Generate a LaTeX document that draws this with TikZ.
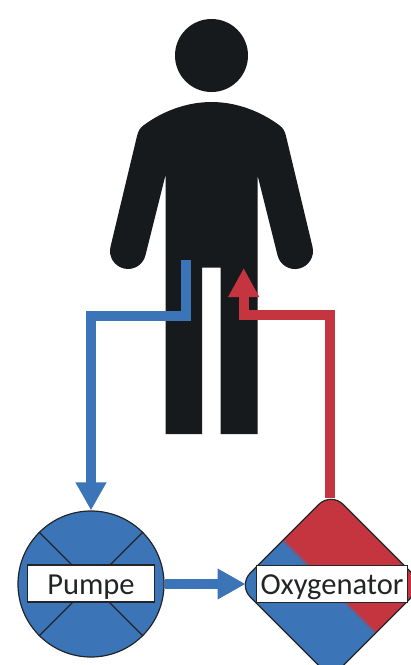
\documentclass[tikz,border=0pt]{standalone}
\usepackage{fontspec}
\setmainfont{Carlito}
\usetikzlibrary{arrows.meta}
\definecolor{pipeblue}{HTML}{3B75B8}
\definecolor{pipered}{HTML}{C43540}
\definecolor{body}{HTML}{161A1D}
\definecolor{edge}{HTML}{222426}
\tikzset{
  bluepipe/.style={draw=pipeblue,line width=10pt},
  redpipe/.style={draw=pipered,line width=10pt},
  bluetip/.style={-{Triangle[width=29pt,length=28pt,fill=pipeblue]}},
  redtip/.style={-{Triangle[width=29pt,length=29pt,fill=pipered]}},
  outline/.style={draw=edge,line width=1.2pt},
  labelbox/.style={draw=edge,line width=1.2pt,fill=white,inner sep=0pt,text=edge,
    text height=22pt,text depth=1pt,
    font=\fontsize{30.5}{36}\selectfont,anchor=center},
}
\begin{document}
\begin{tikzpicture}[x=1pt,y=-1pt]
\clip (0,0) rectangle (411,665);
% person
\fill[body] (211.5,55.5) circle[radius=36.5];
\fill[body] (165.5,434) -- (202,434) -- (202,267.7) -- (220.7,267.7) -- (220.7,434) -- (257.5,434)
  -- (257.5,175) -- (277.5,255.2) arc[start angle=166.6,end angle=-13.4,radius=18]
  -- (286,136) .. controls (284.5,130) and (283,128) .. (279,125)
  .. controls (260,111) and (236,102) .. (211.5,102)
  .. controls (187,102) and (163,111) .. (144,125)
  .. controls (140,128) and (138.5,130) .. (137,136)
  -- (110.5,246.8) arc[start angle=193.4,end angle=13.4,radius=18]
  -- (165.5,175) -- cycle;
% oxygenator
\coordinate (oxyN) at (330.3,498);
\coordinate (oxyW) at (245.5,584);
\begin{scope}
  \clip[rounded corners=17pt] (331,492.3) -- (423.7,585) -- (331,677.7) -- (238.3,585) -- cycle;
  \fill[pipeblue] (230,480) rectangle (430,680);
  \fill[pipered!55!pipeblue] (283.3,540) ++(-70,-70) ++(-1.2,1.2) -- (460,718) -- (460,470) -- cycle;
  \fill[pipered] (283.3,540) ++(-70,-70) ++(1,-1) -- (460,715.7) -- (460,470) -- cycle;
\end{scope}
\draw[outline,rounded corners=17pt] (331,492.3) -- (423.7,585) -- (331,677.7) -- (238.3,585) -- cycle;
% pump
\node[circle,draw=edge,line width=1.2pt,fill=pipeblue,minimum size=146pt,inner sep=0pt] (pump) at (91,584) {};
\draw[outline] (pump.north west) -- (pump.south east);
\draw[outline] (pump.north east) -- (pump.south west);
% labels
\node[labelbox,minimum width=126.6pt,minimum height=37pt] (pumpe) at (91,583.5) {Pumpe};
\node[labelbox,minimum width=150.6pt,minimum height=37pt] (oxygenator) at (332,584.2) {Oxygenator};
% connectors
\coordinate (bluestart) at (186,260);
\coordinate (bluebend) at (186,316);
\coordinate (blueleft) at (91,316);
\coordinate (redbend) at (330.3,315);
\coordinate (redleft) at (243.7,315);
\coordinate (redend) at (243.7,268);
\draw[bluepipe,bluetip] (bluestart) -- (bluebend) -- (blueleft) -- (pump.north);
\draw[redpipe,redtip] (oxyN) -- (redbend) -- (redleft) -- (redend);
\draw[bluepipe,bluetip] (pump.east) -- (oxyW);
\end{tikzpicture}
\end{document}
